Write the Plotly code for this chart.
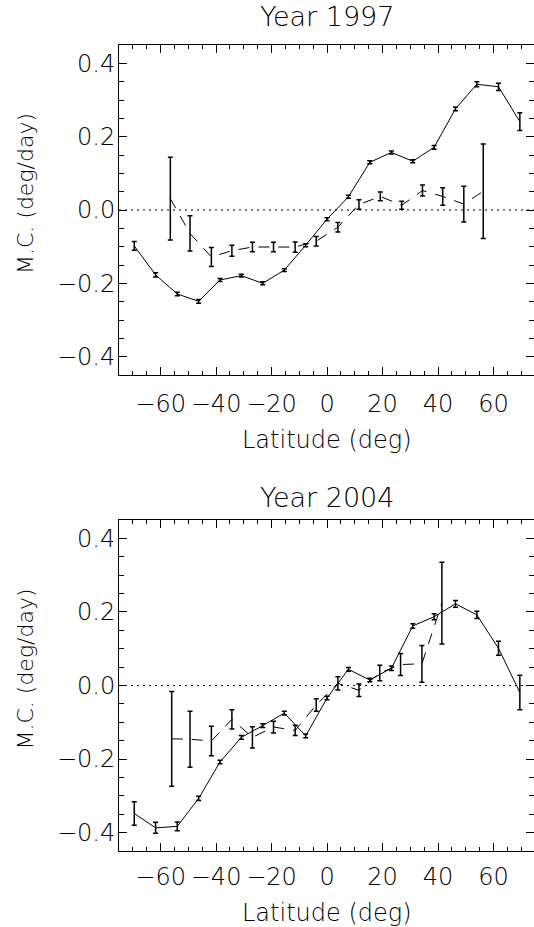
import plotly.graph_objects as go

W, H = 534, 927

# ---------------- data ----------------
lat_solid = [-69.5, -61.8, -54.0, -46.3, -38.6, -30.9, -23.2, -15.4, -7.7, 0.0,
             7.7, 15.4, 23.2, 30.9, 38.6, 46.3, 54.0, 61.8, 69.5]

mc1997_solid = [-0.098, -0.177, -0.229, -0.249, -0.191, -0.179, -0.200, -0.164, -0.096, -0.025,
                0.036, 0.130, 0.157, 0.133, 0.171, 0.276, 0.343, 0.336, 0.241]
err1997_solid = [0.012, 0.006, 0.005, 0.005, 0.004, 0.004, 0.004, 0.004, 0.004, 0.004,
                 0.004, 0.004, 0.004, 0.004, 0.005, 0.005, 0.007, 0.010, 0.024]

lat_dash_1997 = [-56.5, -49.4, -41.7, -34.3, -26.9, -19.3, -11.5, -3.9,
                 3.9, 11.5, 19.2, 26.9, 34.4, 41.7, 49.3, 56.3]
mc1997_dash = [0.031, -0.064, -0.128, -0.111, -0.101, -0.101, -0.101, -0.085,
               -0.047, 0.015, 0.037, 0.013, 0.053, 0.037, 0.016, 0.051]
err1997_dash = [0.113, 0.048, 0.026, 0.015, 0.013, 0.013, 0.014, 0.013,
                0.013, 0.013, 0.012, 0.011, 0.015, 0.024, 0.049, 0.129]

mc2004_solid = [-0.348, -0.387, -0.383, -0.307, -0.208, -0.141, -0.109, -0.075, -0.137, -0.034,
                0.044, 0.015, 0.047, 0.162, 0.187, 0.222, 0.192, 0.101, -0.019]
err2004_solid = [0.032, 0.015, 0.012, 0.006, 0.005, 0.005, 0.005, 0.005, 0.005, 0.005,
                 0.005, 0.005, 0.006, 0.006, 0.008, 0.009, 0.010, 0.019, 0.047]

lat_dash_2004 = [-56.0, -49.4, -41.7, -34.3, -26.9, -19.3, -11.5, -3.9,
                 3.9, 11.5, 19.0, 26.5, 34.2, 41.4]
mc2004_dash = [-0.145, -0.146, -0.151, -0.092, -0.141, -0.113, -0.122, -0.053,
               0.006, -0.013, 0.034, 0.057, 0.059, 0.224]
err2004_dash = [0.129, 0.076, 0.040, 0.026, 0.029, 0.016, 0.014, 0.017,
                0.018, 0.017, 0.021, 0.030, 0.050, 0.111]

panel_titles = ["Year 1997", "Year 2004"]
x_ticks = [-60, -40, -20, 0, 20, 40, 60]
x_ticktext = ["\u221260", "\u221240", "\u221220", "0", "20", "40", "60"]
y_ticks = [-0.4, -0.2, 0.0, 0.2, 0.4]
y_ticktext = ["\u22120.4", "\u22120.2", "0.0", "0.2", "0.4"]
x_title = "Latitude (deg)"
y_title = "M.C. (deg/day)"

# ---------------- layout helpers ----------------
FONT = "DejaVu Sans"
TXT = dict(family=FONT, size=24, color="#000", weight=200)
px_x = lambda p: p / W
px_y = lambda p: 1 - p / H

x0, x1 = 119, 534
panels = [(45, 375), (520, 851)]

fig = go.Figure()

series = [
    (mc1997_solid, err1997_solid, mc1997_dash, err1997_dash, lat_dash_1997),
    (mc2004_solid, err2004_solid, mc2004_dash, err2004_dash, lat_dash_2004),
]

for i, (ys, es, yd, ed, xd) in enumerate(series):
    xa = "x" if i == 0 else "x2"
    ya = "y" if i == 0 else "y2"
    fig.add_trace(go.Scatter(
        x=lat_solid, y=ys, mode="lines", xaxis=xa, yaxis=ya,
        line=dict(color="black", width=1),
        error_y=dict(type="data", array=es, visible=True, color="black",
                     thickness=1.5, width=2.5),
        showlegend=False, hoverinfo="skip"))
    fig.add_trace(go.Scatter(
        x=xd, y=yd, mode="lines", xaxis=xa, yaxis=ya,
        line=dict(color="black", width=1, dash="11px,9px"),
        error_y=dict(type="data", array=ed, visible=True, color="black",
                     thickness=1.5, width=2.5),
        showlegend=False, hoverinfo="skip"))
    # dotted zero line
    fig.add_shape(type="line", xref=xa + " domain", yref=ya, x0=0, x1=1, y0=0, y1=0,
                  line=dict(color="black", width=1, dash="2px,4px"))

axis_common = dict(
    showline=True, linecolor="black", linewidth=1, mirror="ticks",
    ticks="inside", tickcolor="black", tickwidth=1,
    showgrid=False, zeroline=False, tickfont=TXT,
)

for i, (t, b) in enumerate(panels):
    suffix = "" if i == 0 else "2"
    dom_y = [px_y(b), px_y(t)]
    fig.update_layout(**{
        "xaxis" + suffix: dict(
            axis_common, domain=[px_x(x0), px_x(x1)], range=[-75, 74.6],
            anchor="y" + suffix, tickvals=x_ticks, ticktext=x_ticktext, ticklen=8,
            minor=dict(dtick=5, tick0=0, ticklen=4, ticks="inside", tickcolor="black"),
            ticklabelstandoff=7 if i == 0 else 4,
        ),
        "yaxis" + suffix: dict(
            axis_common, domain=dom_y, range=[-0.45, 0.45],
            anchor="x" + suffix, tickvals=y_ticks, ticktext=y_ticktext, ticklen=8,
            minor=dict(dtick=0.05, tick0=0, ticklen=5, ticks="inside", tickcolor="black"),
            ticklabelstandoff=-2,
        ),
    })
    cx = 327
    fig.add_annotation(text=panel_titles[i], x=px_x(cx), y=px_y(t - 28 if i == 0 else t - 22),
                       xref="paper", yref="paper", showarrow=False,
                       font=dict(TXT, size=27), xanchor="center", yanchor="middle")
    fig.add_annotation(text=x_title, x=px_x(cx), y=px_y(b + 65 if i == 0 else b + 62),
                       xref="paper", yref="paper", showarrow=False,
                       font=TXT, xanchor="center", yanchor="middle")
    fig.add_annotation(text=y_title, x=px_x(25), y=px_y((t + b) / 2 - 16),
                       xref="paper", yref="paper", showarrow=False, textangle=-90,
                       font=dict(TXT, size=22), xanchor="center", yanchor="middle")

fig.update_layout(
    width=W, height=H, autosize=False,
    margin=dict(l=0, r=0, t=0, b=0, pad=0),
    paper_bgcolor="white", plot_bgcolor="white",
)

fig.write_html("out.html")
